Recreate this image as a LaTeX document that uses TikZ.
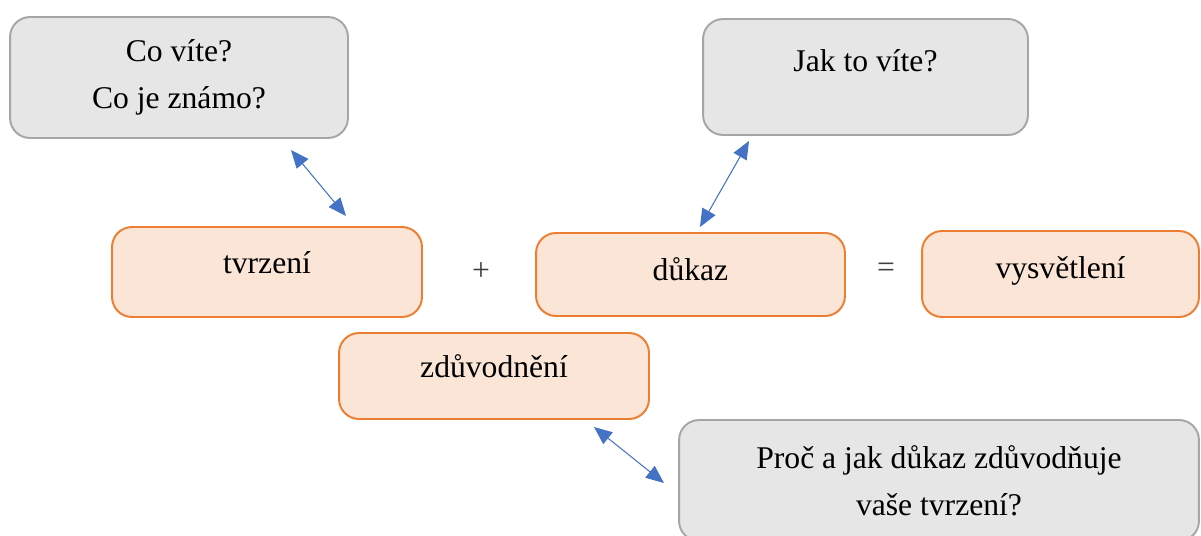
\documentclass[tikz,border=0pt]{standalone}
\usepackage{fontspec}
\setmainfont{Liberation Serif}
\usetikzlibrary{arrows.meta}
\definecolor{boxgray}{HTML}{E6E6E6}
\definecolor{linegray}{HTML}{A6A6A6}
\definecolor{boxorange}{HTML}{FBE5D6}
\definecolor{lineorange}{HTML}{ED7D31}
\definecolor{arrowblue}{HTML}{4472C4}
\tikzset{
  ask/.style={draw=linegray, fill=boxgray, line width=1.1pt, rounded corners=0.4cm, align=center},
  part/.style={draw=lineorange, fill=boxorange, line width=1.1pt, rounded corners=0.4cm, text height=0.48cm},
  link/.style={arrowblue, line width=0.6pt, {Triangle[length=0.36cm,width=0.3cm]}-{Triangle[length=0.36cm,width=0.3cm]}},
}
\begin{document}
\begin{tikzpicture}[x=0.02cm,y=-0.02cm,font=\fontsize{18}{26.7}\selectfont]
    \useasboundingbox (0,0) rectangle (1201,535);
    \node[ask, minimum width=6.76cm, minimum height=2.42cm] (q1) at (179,77.5) {Co víte?\\Co je známo?};
    \node[ask, minimum width=6.5cm, minimum height=2.32cm, text height=0.48cm, text depth=0.72cm] (q2) at (865.5,77) {Jak to víte?};
    \node[ask, minimum width=10.4cm, minimum height=2.42cm] (q3) at (939,480.5) {Proč a jak důkaz zdůvodňuje\\vaše tvrzení?};
    \node[part, minimum width=6.2cm, minimum height=1.8cm, text depth=0.44cm] (p1) at (267,272) {tvrzení};
    \node[part, minimum width=6.18cm, minimum height=1.66cm, text depth=0.26cm] (p2) at (690.5,274.5) {důkaz};
    \node[part, minimum width=5.54cm, minimum height=1.72cm, text depth=0.32cm] (p3) at (1060.5,274) {vysvětlení};
    \node[part, minimum width=6.2cm, minimum height=1.72cm, text depth=0.44cm] (p4) at (494,376) {zdůvodnění};
    \node[text=black!75] (plus) at (481,272) {+};
    \node[text=black!75] (eq) at (886,270) {=};
    \coordinate (a1) at (291,150);
    \coordinate (b1) at (346,216);
    \coordinate (a2) at (749,141);
    \coordinate (b2) at (700,227);
    \coordinate (a3) at (594,427);
    \coordinate (b3) at (664,483);
    \draw[link] (a1) -- (b1);
    \draw[link] (a2) -- (b2);
    \draw[link] (a3) -- (b3);
\end{tikzpicture}
\end{document}
